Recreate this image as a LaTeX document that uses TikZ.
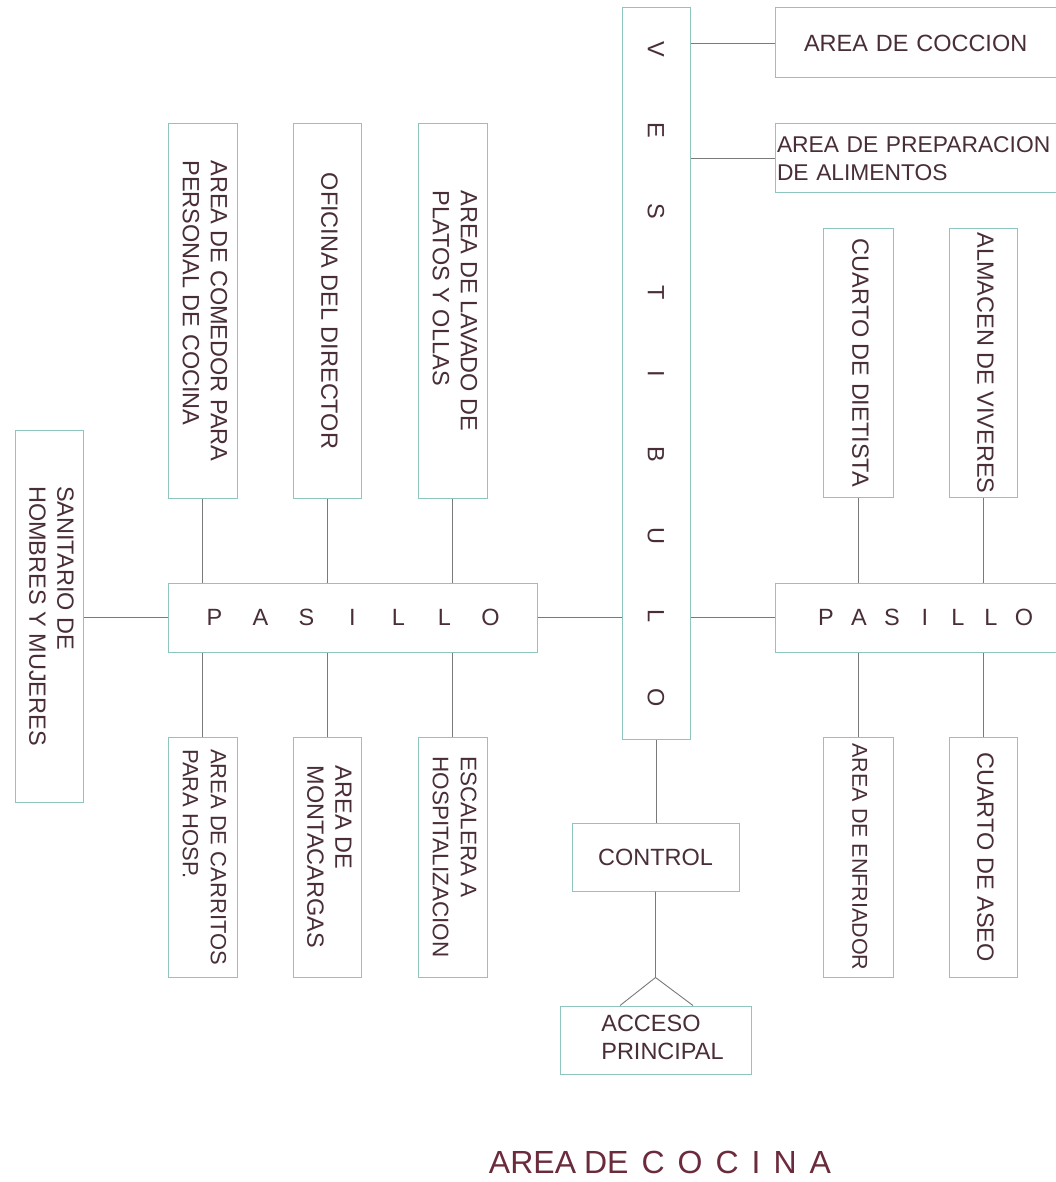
\documentclass[tikz,border=0pt]{standalone}
\usepackage{fontspec}
\setmainfont{Liberation Sans}
\usepackage{graphicx}
\usetikzlibrary{calc}
\definecolor{boxc}{HTML}{8CC6BE}
\definecolor{linec}{HTML}{7A7A7A}
\definecolor{txtc}{HTML}{4A2E37}
\definecolor{titc}{HTML}{6B2B3C}
\newcommand{\vtxt}[1]{\rotatebox{-90}{\begin{tabular}{@{}l@{}}#1\end{tabular}}}
\begin{document}
\begin{tikzpicture}[x=1pt,y=-1pt,
  box/.style={draw=boxc, line width=1pt, inner sep=0pt, text=txtc,
    font=\fontsize{23.5}{28}\selectfont},
  conn/.style={draw=linec, line width=0.9pt}]
\useasboundingbox (0,0) rectangle (1056,1182);
\clip (0,0) rectangle (1056,1182);
\fill[white] (0,0) rectangle (1056,1182);

% VESTIBULO
\node[box, minimum width=68pt, minimum height=731pt] (vest) at (656,373.5)
  {\rotatebox{-90}{\makebox[81pt]{V}\makebox[81pt]{E}\makebox[81pt]{S}\makebox[81pt]{T}\makebox[81pt]{I}\makebox[81pt]{B}\makebox[81pt]{U}\makebox[81pt]{L}\makebox[81pt]{O}}};

% right top
\node[box, minimum width=300pt, minimum height=70pt, text width=242pt, inner xsep=29pt, align=left] (cocc) at (925,43) {AREA DE COCCION};
\node[box, minimum width=300pt, minimum height=69pt, text width=296pt, inner xsep=2pt, align=left,
  font=\fontsize{22.8}{28}\selectfont] (prep) at (925,158.5) {AREA DE PREPARACION\\DE ALIMENTOS};

% right column boxes
\node[box, minimum width=70pt, minimum height=268pt] (diet) at (858,363) {\vtxt{CUARTO DE DIETISTA}};
\node[box, minimum width=68pt, minimum height=268pt] (alm) at (983,363) {\vtxt{ALMACEN DE VIVERES}};
\node[box, minimum width=300pt, minimum height=69pt] (rpas) at (925,617.5)
  {\makebox[33pt]{P}\makebox[33pt]{A}\makebox[33pt]{S}\makebox[33pt]{I}\makebox[33pt]{L}\makebox[33pt]{L}\makebox[33pt]{O}\hspace{16pt}};
\node[box, minimum width=70pt, minimum height=240pt, font=\fontsize{21.5}{28}\selectfont] (enf) at (858,857) {\vtxt{AREA DE ENFRIADOR}};
\node[box, minimum width=68pt, minimum height=240pt] (aseo) at (983,857) {\vtxt{CUARTO DE ASEO}};

% left column boxes
\node[box, minimum width=69pt, minimum height=374pt] (come) at (202.5,311) {\vtxt{AREA DE COMEDOR PARA\\PERSONAL DE COCINA}};
\node[box, minimum width=68pt, minimum height=374pt] (ofic) at (327,311) {\vtxt{OFICINA DEL DIRECTOR}};
\node[box, minimum width=69pt, minimum height=374pt] (lava) at (452.5,311) {\vtxt{AREA DE LAVADO DE\\PLATOS Y OLLAS}};
\node[box, minimum width=369pt, minimum height=69pt] (lpas) at (352.5,617.5)
  {\makebox[46pt]{P}\makebox[46pt]{A}\makebox[46pt]{S}\makebox[46pt]{I}\makebox[46pt]{L}\makebox[46pt]{L}\makebox[46pt]{O}\hspace{16pt}};
\node[box, minimum width=69pt, minimum height=240pt, font=\fontsize{22}{28}\selectfont] (carr) at (202.5,857) {\vtxt{AREA DE CARRITOS\\PARA HOSP.}};
\node[box, minimum width=68pt, minimum height=240pt] (mont) at (327,857) {\vtxt{AREA DE\\MONTACARGAS}};
\node[box, minimum width=69pt, minimum height=240pt, font=\fontsize{22.5}{28}\selectfont] (esca) at (452.5,857) {\vtxt{ESCALERA A\\HOSPITALIZACION}};
\node[box, minimum width=68pt, minimum height=372pt] (sani) at (49,616) {\vtxt{SANITARIO DE\\HOMBRES Y MUJERES}};

% control / acceso
\node[box, minimum width=167pt, minimum height=68pt] (ctrl) at (655.5,857) {CONTROL};
\node[box, minimum width=191pt, minimum height=68pt] (acc) at (655.5,1040)
  {\hspace*{14pt}\begin{tabular}{@{}l@{}}ACCESO\\PRINCIPAL\end{tabular}};

% title
\node[text=titc, font=\fontsize{32}{36}\selectfont, anchor=base, inner sep=0pt] (title) at (660,1173)
  {AREA\hspace{8pt}DE\hspace{13pt}C\hspace{13pt}O\hspace{13pt}C\hspace{13pt}I\hspace{13pt}N\hspace{13pt}A};

% connectors
\draw[conn] (vest.east |- cocc.west) -- (cocc.west);
\draw[conn] (vest.east |- prep.west) -- (prep.west);
\draw[conn] (vest.east |- rpas.west) -- (rpas.west);
\draw[conn] (lpas.east) -- (lpas.east -| vest.west);
\draw[conn] (lpas.west) -- (lpas.west -| sani.east);
\foreach \b in {come,ofic,lava}{
  \draw[conn] (\b.south) -- (\b.south |- lpas.north);
}
\foreach \b in {carr,mont,esca}{
  \draw[conn] (\b.north) -- (\b.north |- lpas.south);
}
\foreach \b in {diet,alm}{
  \draw[conn] (\b.south) -- (\b.south |- rpas.north);
}
\foreach \b in {enf,aseo}{
  \draw[conn] (\b.north) -- (\b.north |- rpas.south);
}
\draw[conn] (vest.south) -- (vest.south |- ctrl.north);
\coordinate (peak) at ($(ctrl.south)+(0,86)$);
\coordinate (accl) at ($(acc.north)+(-35.5,0)$);
\coordinate (accr) at ($(acc.north)+(37.5,0)$);
\draw[conn] (ctrl.south) -- (peak) -- (accl);
\draw[conn] (peak) -- (accr);
\end{tikzpicture}
\end{document}
